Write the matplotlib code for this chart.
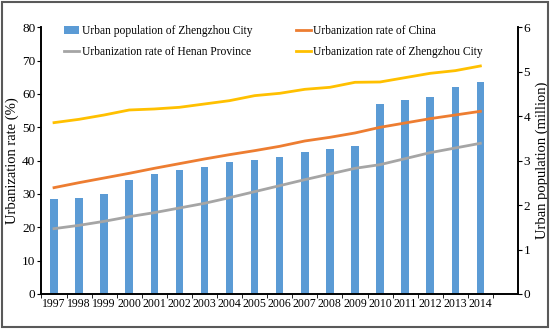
import matplotlib.pyplot as plt
import numpy as np

plt.rcParams['font.family'] = 'Liberation Serif'

years = ['1997', '1998', '1999', '2000', '2001', '2002', '2003', '2004', '2005',
         '2006', '2007', '2008', '2009', '2010', '2011', '2012', '2013', '2014']
# urban population of Zhengzhou (million), right axis
zz_pop = [2.14, 2.17, 2.24, 2.57, 2.71, 2.78, 2.86, 2.97, 3.02,
          3.09, 3.19, 3.27, 3.33, 4.28, 4.37, 4.43, 4.66, 4.78]
# urbanization rates (%), left axis
china = [31.9, 33.4, 34.8, 36.2, 37.7, 39.1, 40.5, 41.8, 43.0,
         44.3, 45.9, 47.0, 48.3, 50.0, 51.3, 52.6, 53.7, 54.8]
henan = [19.6, 20.6, 21.8, 23.2, 24.4, 25.8, 27.2, 28.9, 30.7,
         32.5, 34.3, 36.0, 37.7, 38.8, 40.6, 42.4, 43.8, 45.2]
zhengzhou = [51.4, 52.4, 53.7, 55.2, 55.5, 56.0, 57.0, 58.0, 59.5,
             60.2, 61.4, 62.0, 63.5, 63.6, 64.9, 66.2, 67.0, 68.4]

x = np.arange(len(years))

fig = plt.figure(figsize=(5.5, 3.29), dpi=100)
ax = fig.add_axes([0.0745, 0.1064, 0.8673, 0.8106])
ax2 = ax.twinx()

ax2.bar(x, zz_pop, width=0.3, color='#5B9BD5', label='Urban population of Zhengzhou City')
l1, = ax.plot(x, china, color='#ED7D31', lw=2, label='Urbanization rate of China')
l2, = ax.plot(x, henan, color='#A5A5A5', lw=2, label='Urbanization rate of Henan Province')
l3, = ax.plot(x, zhengzhou, color='#FFC000', lw=2, label='Urbanization rate of Zhengzhou City')

ax.set_zorder(ax2.get_zorder() + 1)
ax.patch.set_visible(False)

ax.set_xlim(-0.52, 18.5)
ax.set_ylim(0, 80)
ax2.set_ylim(0, 6)
ax.set_yticks(range(0, 81, 10))
ax2.set_yticks(range(0, 7))

ax.set_xticks(x)
ax.set_xticklabels(years)
ax.set_xticks(np.arange(-0.5, 18, 1), minor=True)
ax.tick_params(axis='x', which='major', length=0, labelsize=8.5, pad=3)
ax.tick_params(axis='x', which='minor', length=3, direction='out')
ax.tick_params(axis='y', labelsize=9.5, length=3, direction='out', pad=1)
ax2.tick_params(axis='y', labelsize=9.5, length=3, direction='out', pad=1)

for a in (ax, ax2):
    a.spines['top'].set_visible(False)
    for s in ('left', 'right', 'bottom'):
        a.spines[s].set_linewidth(1.2)

ax.set_ylabel('Urbanization rate (%)', fontsize=10.5, labelpad=2)
ax2.set_ylabel('Urban population (million)', fontsize=10.5, labelpad=4)

bars_h, bars_l = ax2.get_legend_handles_labels()
fig.legend(bars_h + [l2, l1, l3],
           bars_l + [l2.get_label(), l1.get_label(), l3.get_label()],
           ncol=2, loc='upper left', bbox_to_anchor=(0.098, 0.955),
           frameon=False, fontsize=8.3, handlelength=1.3, handletextpad=0.2,
           columnspacing=3.8, labelspacing=0.8)

fig.patches.append(plt.Rectangle((0.003, 0.005), 0.994, 0.99, transform=fig.transFigure,
                                 fill=False, edgecolor='#595959', lw=1.5))

fig.savefig('out.png', dpi=100)
